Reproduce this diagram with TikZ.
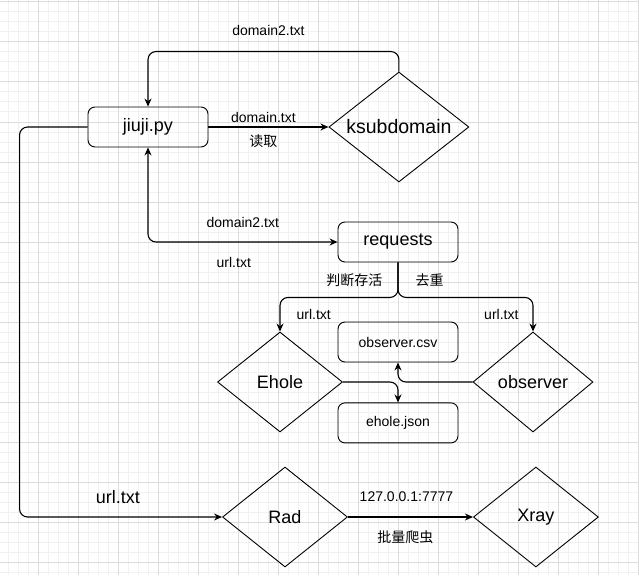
\documentclass[tikz,border=0pt]{standalone}
\usepackage{fontspec}
\setmainfont{Liberation Sans}
\newfontfamily\cjk{Noto Sans CJK SC}
\usetikzlibrary{positioning,shapes.geometric,arrows.meta}
\definecolor{gridmajor}{HTML}{DCDCDC}
\definecolor{gridminor}{HTML}{F1F1F1}

\begin{document}
\begin{tikzpicture}[
  x=1pt, y=-1pt,
  box/.style={rectangle, draw, rounded corners=7pt, line width=0.9pt,
              minimum width=120pt, minimum height=40pt, inner sep=0pt},
  tool/.style={diamond, draw, line width=0.9pt, inner sep=0pt, aspect=1.27,
               minimum width=125pt, minimum height=100pt},
  big/.style={font=\fontsize{18}{20}\selectfont},
  small/.style={font=\fontsize{14}{16}\selectfont},
  lbl/.style={small, inner sep=0pt},
  arrow/.style={-{Stealth[length=8pt,width=7pt]}, line width=1.1pt, rounded corners=8pt},
  twoway/.style={{Stealth[length=8pt,width=7pt]}-{Stealth[length=8pt,width=7pt]},
                 line width=1.1pt, rounded corners=8pt}
]
% canvas and grid
\useasboundingbox (0,0) rectangle (639,575);
\fill[white] (0,0) rectangle (639,575);
\foreach \i in {8,18,...,638} \draw[gridminor, line width=1pt] (\i,0) -- (\i,575);
\foreach \j in {2,12,...,572} \draw[gridminor, line width=1pt] (0,\j) -- (639,\j);
\foreach \i in {38,78,...,638} \draw[gridmajor, line width=1pt] (\i,0) -- (\i,575);
\foreach \j in {2,42,...,562} \draw[gridmajor, line width=1pt] (0,\j) -- (639,\j);

\node[box, big] (jiuji) at (148,127) {jiuji.py};
\node[tool, font=\fontsize{19.5}{21}\selectfont, minimum width=140pt,
      minimum height=110pt, right=120pt of jiuji] (ksub) {ksubdomain};
\node[box, big] (req) at (398,242) {requests};
\node[tool, big] (ehole) at (280,382) {Ehole};
\node[tool, big, minimum width=120pt] (obs) at (533,382) {observer};
\node[box, small] (csv) at (398,342) {observer.csv};
\node[box, small, below=40pt of csv] (json) {ehole.json};
\node[tool, big] (rad) at (285,517) {Rad};
\node[tool, big, right=125pt of rad] (xray) {Xray};

\draw[arrow] (jiuji) -- node[lbl, above=4pt, xshift=-5pt]{domain.txt}
  node[lbl, below=7pt, xshift=-5pt]{\cjk 读取} (ksub);
\draw[arrow] (ksub.north) -- ++(0,-20) -| node[lbl, pos=0.25, above=15pt, xshift=-5pt]{domain2.txt} (jiuji.north);
\draw[twoway] (jiuji.south) |- node[lbl, pos=0.75, above=14pt]{domain2.txt}
  node[lbl, pos=0.75, below=15pt, xshift=-9pt]{url.txt} (req.west);

\draw[arrow] (req.south) -- node[lbl, left=15pt]{\cjk 判断存活}
  node[lbl, right=17pt]{\cjk 去重} ++(0,35) -| node[lbl, pos=0.75, right=16pt]{url.txt} (ehole.north);
\draw[arrow] (req.south) -- ++(0,35) -| node[lbl, pos=0.75, left=14pt]{url.txt} (obs.north);

\draw[arrow] (ehole.east) -| (json.north);
\draw[arrow] (obs.west) -| (csv.south);

\draw[arrow] (jiuji.west) -- ++(-68,0) |- node[lbl, big, pos=0.75, above=13pt, xshift=-3pt]{url.txt} (rad.west);
\draw[arrow] (rad) -- node[lbl, above=15pt, xshift=-4pt]{127.0.0.1:7777}
  node[lbl, below=13pt, xshift=-5pt]{\cjk 批量爬虫} (xray);
\end{tikzpicture}
\end{document}
